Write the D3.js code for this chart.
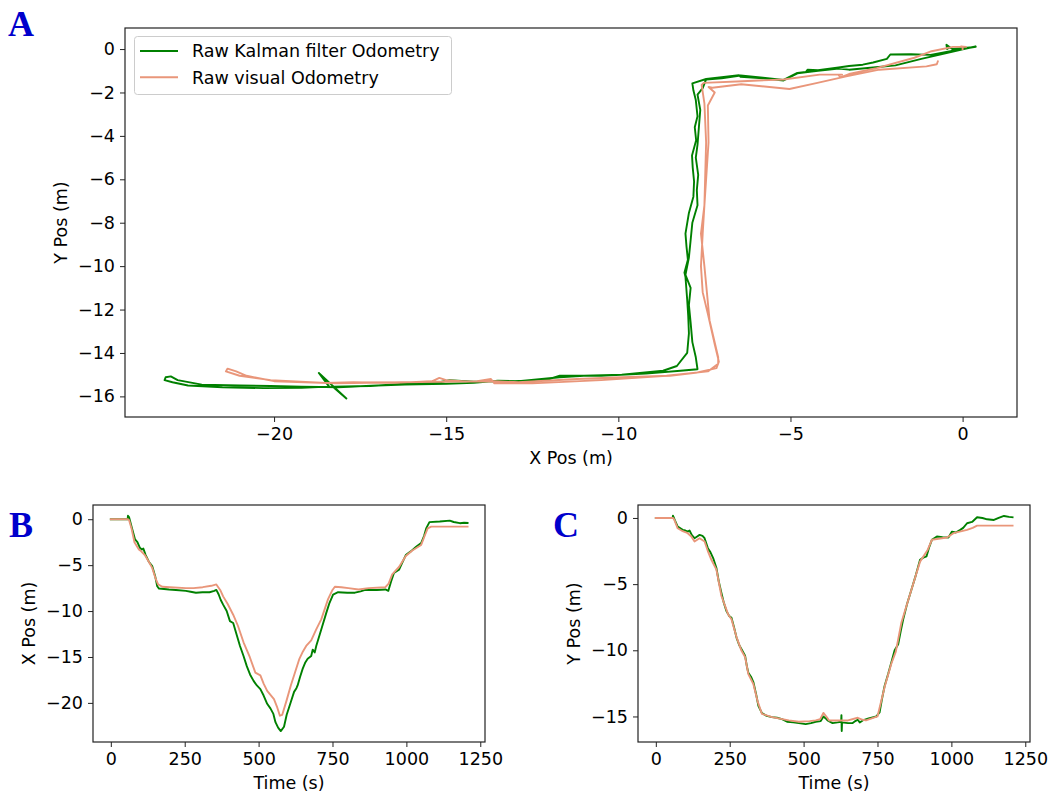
<!DOCTYPE html>
<html>
<head>
<meta charset="utf-8">
<script src="https://cdn.jsdelivr.net/npm/d3@7"></script>
<style>
  html, body { margin: 0; padding: 0; background: #fff; }
  svg { display: block; }
  text { font-family: "DejaVu Sans", sans-serif; }
</style>
</head>
<body>
<svg id="chart" width="1057" height="802"></svg>
<script>
// ---------------- DATA ----------------
const seriesNames = ["Raw Kalman filter Odometry", "Raw visual Odometry"];
const seriesColors = ["green", "darksalmon"];

// Panel A: trajectory (X Pos, Y Pos) in metres
const kalmanPathX = [0,0.05,0.38,0.1,-0.5,-1.2,-1.95,-2.6,-3.3,-3.6,-4.2,-4.8,-5.2,-5.8,-6.45,-6.5,-7.0,-7.45,-7.85,-7.82,-7.75,-7.7,-7.78,-7.74,-7.86,-7.84,-7.8,-7.82,-7.95,-8.05,-8.02,-7.98,-8.08,-8.05,-8.0,-7.97,-7.95,-8.0,-8.3,-8.7,-9.9,-11.0,-11.7,-12.9,-13.5,-14.2,-15.0,-16.2,-17.0,-18.15,-19.2,-20.1,-21.0,-22.1,-22.8,-23.0,-23.15,-23.18,-22.95,-22.5,-21.5,-20.3,-19.2,-18.4,-18.7,-17.9,-18.3,-17.2,-16.2,-15.2,-14.9,-14.2,-13.0,-12.0,-11.7,-10.5,-9.2,-8.2,-7.7,-7.75,-7.85,-7.9,-7.95,-7.9,-8.05,-7.95,-7.9,-7.85,-7.7,-7.72,-7.68,-7.75,-7.7,-7.66,-7.62,-7.7,-7.55,-7.45,-7.0,-6.45,-5.8,-5.2,-4.8,-4.55,-4.5,-4.2,-3.6,-3.3,-2.9,-2.6,-2.2,-2.1,-1.5,-0.93,-0.2,0.38,-0.3,-0.47,-0.45,-0.4];
const kalmanPathY = [0,0.02,0.12,0.02,-0.2,-0.45,-0.75,-0.85,-0.95,-0.9,-1.0,-1.12,-1.45,-1.35,-1.28,-1.2,-1.3,-1.38,-1.58,-1.9,-2.35,-3.1,-3.6,-4.2,-4.9,-5.45,-6.1,-6.8,-7.55,-8.5,-9.1,-9.7,-10.3,-10.5,-11.55,-12.3,-13.1,-14.0,-14.6,-14.82,-15.0,-15.05,-15.12,-15.3,-15.28,-15.38,-15.42,-15.45,-15.5,-15.58,-15.55,-15.52,-15.5,-15.46,-15.25,-15.08,-15.12,-15.25,-15.35,-15.5,-15.58,-15.62,-15.6,-15.55,-14.92,-16.1,-15.55,-15.52,-15.42,-15.35,-15.25,-15.32,-15.3,-15.2,-15.05,-15.05,-14.95,-14.82,-14.75,-14.2,-13.5,-12.6,-11.8,-11.0,-10.4,-9.6,-8.8,-8.0,-7.2,-6.5,-5.8,-5.0,-4.4,-3.6,-2.8,-2.1,-1.8,-1.4,-1.35,-1.22,-1.32,-1.42,-1.1,-1.05,-0.95,-0.97,-0.85,-0.78,-0.72,-0.62,-0.45,-0.25,-0.24,-0.27,-0.05,0.1,0.0,0.2,0.0,0.05];

const visualPathX = [0,0.0,-0.05,0.1,-0.28,-0.9,-1.4,-2.5,-3.3,-3.55,-3.6,-3.5,-4.15,-5.2,-6.4,-7.52,-7.58,-7.5,-7.45,-7.5,-7.55,-7.6,-7.55,-7.4,-7.2,-7.08,-7.15,-7.7,-8.5,-9.9,-11.2,-12.9,-13.6,-14.3,-15.0,-15.2,-15.4,-16.5,-17.7,-18.5,-20.1,-21.0,-21.4,-21.35,-21.1,-20.8,-20.0,-18.2,-16.3,-14.1,-13.7,-13.6,-12.5,-10.5,-8.6,-7.4,-7.1,-7.1,-7.35,-7.5,-7.6,-7.5,-7.38,-7.4,-7.2,-7.38,-7.27,-6.43,-5.03,-4.25,-3.38,-2.42,-1.05,-0.75,-0.72];
const visualPathY = [0,0.08,0.12,0.1,0.1,-0.1,-0.4,-0.88,-1.15,-1.3,-1.2,-1.18,-1.18,-1.4,-1.48,-1.56,-1.65,-2.5,-4.3,-7.2,-8.5,-10.0,-11.2,-12.2,-13.6,-14.4,-14.7,-14.9,-15.05,-15.12,-15.2,-15.35,-15.3,-15.32,-15.25,-15.15,-15.3,-15.38,-15.35,-15.38,-15.25,-15.05,-14.85,-14.72,-14.85,-15.05,-15.3,-15.4,-15.35,-15.3,-15.2,-15.4,-15.4,-15.25,-15.05,-14.85,-14.5,-14.2,-12.5,-10.0,-8.5,-7.2,-4.3,-2.6,-2.0,-1.75,-1.78,-1.62,-1.84,-1.57,-1.26,-0.95,-0.8,-0.7,-0.57];

// Panel B: X position over time
const kalmanTimeX = [0,57,58,62,70,82,90,98,105,110,118,128,140,150,157,163,180,197,220,254,270,288,310,334,350,357,365,372,380,392,403,414,425,437,449,460,471,483,494,506,517,529,540,550,557,566,575,586,595,609,620,628,632,640,649,658,666,678,683,690,695,712,729,740,752,769,800,826,845,861,900,929,939,948,958,975,985,998,1015,1033,1050,1060,1067,1078,1113,1147,1160,1181,1195,1207];
const kalmanX = [0,0,0.38,0.2,-0.8,-2.2,-2.5,-3.1,-3.3,-3.2,-3.9,-4.6,-5.1,-6.2,-7.3,-7.55,-7.6,-7.65,-7.7,-7.8,-7.9,-8.0,-7.95,-7.95,-7.8,-7.7,-8.2,-8.8,-9.3,-10.0,-11.1,-11.3,-12.5,-13.8,-14.9,-16.0,-16.9,-17.6,-18.1,-18.5,-19.2,-20.1,-20.6,-21.2,-22.1,-22.7,-23.07,-22.6,-21.3,-19.9,-18.8,-18.4,-18.1,-17.2,-16.3,-15.6,-15.2,-14.9,-14.2,-14.5,-13.8,-12.0,-10.2,-9.1,-8.2,-7.95,-8.0,-8.0,-7.85,-7.7,-7.7,-7.65,-7.8,-6.8,-5.85,-5.5,-4.8,-3.9,-3.5,-3.0,-2.6,-1.8,-1.0,-0.32,-0.25,-0.15,-0.3,-0.43,-0.38,-0.4];
const visualTimeX = [0,58,62,70,80,95,103,115,128,140,152,160,174,200,254,280,311,340,357,370,380,395,414,430,449,470,489,506,517,529,552,562,572,580,595,609,625,638,650,661,678,695,712,735,750,758,780,804,838,872,929,940,952,975,998,1020,1050,1062,1072,1084,1207];
const visualX = [0,0,-0.1,-1.0,-2.5,-3.3,-3.5,-3.9,-4.6,-5.3,-6.5,-7.1,-7.35,-7.4,-7.5,-7.5,-7.4,-7.25,-7.1,-7.7,-8.4,-9.2,-10.4,-11.6,-13.4,-15.0,-16.7,-17.0,-17.9,-18.7,-19.6,-20.4,-21.4,-21.3,-19.7,-18.1,-16.5,-15.2,-14.4,-13.8,-13.2,-12.0,-10.9,-8.7,-7.7,-7.35,-7.4,-7.5,-7.65,-7.5,-7.4,-7.0,-6.0,-5.2,-4.0,-3.4,-2.8,-1.8,-1.0,-0.8,-0.8];

// Panel C: Y position over time
const kalmanTimeY = [0,57,58,65,74,91,100,108,114,122,131,140,148,158,165,176,185,194,205,213,222,230,239,248,256,265,273,282,290,302,308,313,322,330,340,347,359,375,393,410,427,444,465,484,507,525,541,558,567,575,581,598,615,627,628,629,630,650,666,675,683,690,700,720,746,757,765,774,786,797,808,820,829,837,850,865,880,894,905,916,925,934,951,970,990,1002,1015,1030,1040,1053,1070,1087,1105,1121,1144,1160,1178,1195,1207];
const kalmanY = [0,0,0.18,-0.2,-0.65,-0.9,-0.95,-1.03,-0.95,-1.3,-1.53,-1.4,-1.28,-1.35,-1.53,-2.28,-2.6,-3.03,-3.78,-4.8,-5.66,-6.4,-7.04,-7.4,-7.54,-8.3,-9.04,-9.6,-9.92,-10.4,-11.2,-11.7,-12.0,-12.4,-13.4,-14.2,-14.75,-14.95,-15.05,-15.1,-15.2,-15.4,-15.45,-15.5,-15.58,-15.5,-15.4,-15.35,-15.0,-15.15,-15.3,-15.5,-15.45,-15.4,-14.9,-16.1,-15.45,-15.5,-15.5,-15.35,-15.25,-15.45,-15.3,-15.15,-15.0,-14.7,-13.7,-12.7,-11.8,-10.9,-10.0,-9.54,-8.5,-7.66,-6.5,-5.4,-4.3,-3.16,-3.0,-2.9,-2.2,-1.65,-1.4,-1.45,-1.48,-1.03,-1.1,-0.9,-0.75,-0.4,-0.3,0.05,0.0,-0.1,-0.15,0.0,0.15,0.08,0.05];
const visualTimeY = [0,58,62,74,91,108,120,131,148,165,176,188,205,222,245,256,273,290,302,313,330,345,359,393,450,484,520,541,556,567,580,586,650,683,700,711,750,775,797,812,831,865,894,920,934,985,1007,1053,1072,1087,1207];
const visualY = [0,0,-0.1,-0.78,-1.0,-1.15,-1.4,-1.78,-1.53,-1.78,-2.5,-3.16,-3.9,-5.9,-7.3,-7.66,-9.0,-10.04,-10.5,-11.8,-12.55,-13.9,-14.8,-15.05,-15.3,-15.4,-15.35,-15.3,-15.2,-14.73,-15.1,-15.3,-15.3,-15.1,-15.25,-15.3,-15.0,-12.7,-11.0,-10.1,-7.9,-5.4,-3.3,-2.4,-1.65,-1.48,-1.15,-0.9,-0.75,-0.58,-0.58];

// Tick values
const ticksAX = [-20, -15, -10, -5, 0];
const ticksAY = [0, -2, -4, -6, -8, -10, -12, -14, -16];
const ticksTime = [0, 250, 500, 750, 1000, 1250];
const ticksBY = [0, -5, -10, -15, -20];
const ticksCY = [0, -5, -10, -15];

// ---------------- DRAWING ----------------
const svg = d3.select("#chart");
svg.append("rect").attr("width", 1057).attr("height", 802).attr("fill", "#fff");

const FS = 17.5;
const zip = (a, b) => a.map((v, i) => [v, b[i]]);

function panel(cfg) {
  const { left, top, width, height, xDomain, yDomain, xTicks, yTicks, xLabel, yLabel, series, letter, letterPos, id } = cfg;
  const x = d3.scaleLinear().domain(xDomain).range([left, left + width]);
  const y = d3.scaleLinear().domain(yDomain).range([top + height, top]);
  const g = svg.append("g");

  g.append("clipPath").attr("id", "clip" + id)
    .append("rect").attr("x", left).attr("y", top).attr("width", width).attr("height", height);

  const line = d3.line().x(d => x(d[0])).y(d => y(d[1]));
  const lines = g.append("g").attr("clip-path", `url(#clip${id})`);
  series.forEach((s, i) => {
    lines.append("path").datum(s).attr("d", line)
      .attr("fill", "none").attr("stroke", seriesColors[i])
      .attr("stroke-width", 1.9).attr("stroke-linejoin", "round").attr("stroke-linecap", "square");
  });

  // axes
  const xAxis = d3.axisBottom(x).tickValues(xTicks).tickSize(5).tickPadding(6).tickFormat(d3.format("d"));
  const yAxis = d3.axisLeft(y).tickValues(yTicks).tickSize(5).tickPadding(5).tickFormat(d3.format("d"));
  const gx = g.append("g").attr("transform", `translate(0,${top + height})`).call(xAxis);
  const gy = g.append("g").attr("transform", `translate(${left},0)`).call(yAxis);
  [gx, gy].forEach(a => {
    a.select(".domain").remove();
    a.selectAll(".tick line").attr("stroke", "#222").attr("stroke-width", 1);
    a.selectAll(".tick text").attr("fill", "#000").style("font-size", FS + "px")
      .style("font-family", "'DejaVu Sans', sans-serif");
  });

  // frame
  g.append("rect").attr("x", left).attr("y", top).attr("width", width).attr("height", height)
    .attr("fill", "none").attr("stroke", "#222").attr("stroke-width", 1.2);

  // labels
  g.append("text").attr("x", left + width / 2).attr("y", top + height + 47)
    .attr("text-anchor", "middle").style("font-size", FS + "px").text(xLabel);
  g.append("text").attr("transform", `translate(${left - 58},${top + height / 2}) rotate(-90)`)
    .attr("text-anchor", "middle").style("font-size", FS + "px").text(yLabel);

  g.append("text").attr("x", letterPos[0]).attr("y", letterPos[1])
    .style("font-family", "'Liberation Serif', 'Times New Roman', serif")
    .style("font-weight", "bold").style("font-size", "36px").attr("fill", "#0000cc").text(letter);
  return { x, y, g };
}

const A = panel({
  id: "A", left: 125, top: 28, width: 892, height: 389,
  xDomain: [-24.33, 1.58], yDomain: [-16.95, 0.97],
  xTicks: ticksAX, yTicks: ticksAY, xLabel: "X Pos (m)", yLabel: "Y Pos (m)",
  series: [zip(kalmanPathX, kalmanPathY), zip(visualPathX, visualPathY)],
  letter: "A", letterPos: [8, 36]
});

panel({
  id: "B", left: 93, top: 505, width: 392, height: 237,
  xDomain: [-60.3, 1266], yDomain: [-24.26, 1.55],
  xTicks: ticksTime, yTicks: ticksBY, xLabel: "Time (s)", yLabel: "X Pos (m)",
  series: [zip(kalmanTimeX, kalmanX), zip(visualTimeX, visualX)],
  letter: "B", letterPos: [9, 537]
});

panel({
  id: "C", left: 638, top: 505, width: 392, height: 237,
  xDomain: [-60.3, 1266], yDomain: [-16.93, 0.98],
  xTicks: ticksTime, yTicks: ticksCY, xLabel: "Time (s)", yLabel: "Y Pos (m)",
  series: [zip(kalmanTimeY, kalmanY), zip(visualTimeY, visualY)],
  letter: "C", letterPos: [553, 537]
});

// legend in panel A
const lg = svg.append("g");
lg.append("rect").attr("x", 134.5).attr("y", 36.5).attr("width", 317).attr("height", 58).attr("rx", 3)
  .attr("fill", "#fff").attr("fill-opacity", 0.8).attr("stroke", "#cccccc").attr("stroke-width", 1);
seriesNames.forEach((name, i) => {
  const yy = 51 + i * 26.3;
  lg.append("line").attr("x1", 140).attr("x2", 178).attr("y1", yy).attr("y2", yy)
    .attr("stroke", seriesColors[i]).attr("stroke-width", 1.9);
  lg.append("text").attr("x", 192).attr("y", yy + 6.4).style("font-size", FS + "px").text(name);
});
</script>
</body>
</html>
